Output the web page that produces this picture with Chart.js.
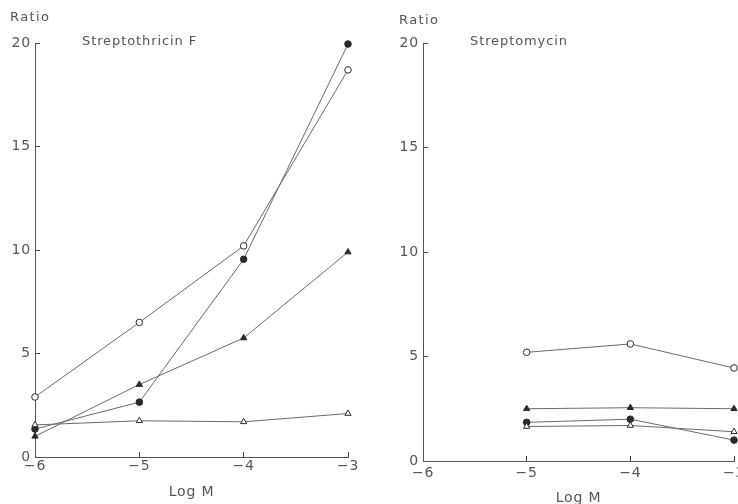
<!DOCTYPE html>
<html><head><meta charset="utf-8">
<script src="https://cdn.jsdelivr.net/npm/chart.js@4/dist/chart.umd.min.js"></script>
<style>
html,body{margin:0;padding:0;background:#fff;overflow:hidden;width:738px;height:504px;position:relative}
canvas{position:absolute;top:0}
</style></head>
<body>
<canvas id="c1" width="400" height="504" style="left:0"></canvas>
<canvas id="c2" width="400" height="504" style="left:369px"></canvas>
<script>
// Data
const logMLeft = [-6, -5, -4, -3];
const logMRight = [-5, -4, -3];
const yTickStep = 5;
const yMax = 20;
const xMin = -6, xMax = -3;

// Streptothricin F panel
const sfOpenCircle     = [2.9, 6.5, 10.2, 18.7];
const sfFilledCircle   = [1.35, 2.65, 9.55, 19.95];
const sfFilledTriangle = [1.0, 3.5, 5.75, 9.9];
const sfOpenTriangle   = [1.55, 1.75, 1.7, 2.1];

// Streptomycin panel
const smOpenCircle     = [5.2, 5.6, 4.45];
const smFilledTriangle = [2.5, 2.55, 2.5];
const smFilledCircle   = [1.85, 2.0, 1.0];
const smOpenTriangle   = [1.65, 1.7, 1.4];

const INK = '#555';
const LINE = '#6a6a6a';
const MARK = '#2a2a2a';
const FONT = "'DejaVu Sans', sans-serif";
const TICK_IN = -5;

function pts(xs, ys){ return xs.map((x,i)=>({x:x, y:ys[i]})); }

function ds(xs, ys, style, filled){
  return {
    data: pts(xs, ys),
    showLine: true,
    clip: false,
    borderColor: LINE,
    borderWidth: 1,
    pointStyle: style,
    pointRadius: style === 'triangle' ? 3.6 : 3.3,
    pointBorderColor: MARK,
    pointBorderWidth: 1,
    pointBackgroundColor: filled ? MARK : '#fff',
    pointHoverRadius: 3.3
  };
}

const fmtMinus = v => (v < 0 ? '\u2212' : '') + Math.abs(v);

const panelPlugin = {
  id: 'panelText',
  beforeDraw(chart){ chart.ctx.letterSpacing = '0.8px'; },
  afterDraw(chart, args, opts){
    const ctx = chart.ctx, ca = chart.chartArea;
    ctx.save();
    ctx.fillStyle = INK;
    ctx.font = "13px " + FONT;
    ctx.textBaseline = 'middle';
    ctx.textAlign = 'left';
    ctx.letterSpacing = '1.4px';
    ctx.fillText('Ratio', ca.left + opts.ratioDx, ca.top + opts.ratioDy);
    ctx.letterSpacing = '0.9px';
    ctx.fillText(opts.title, ca.left + opts.titleDx, ca.top + opts.titleDy);
    ctx.restore();
  }
};

function makeChart(id, datasets, cfg){
  const gridOpts = { display: true, drawOnChartArea: false, drawTicks: true, tickLength: TICK_IN, color: '#444', tickColor: '#444', tickWidth: 1 };
  return new Chart(document.getElementById(id), {
    type: 'scatter',
    data: { datasets: datasets },
    plugins: [panelPlugin],
    options: {
      responsive: false,
      animation: false,
      devicePixelRatio: 1,
      events: [],
      layout: { autoPadding: false, padding: { left: 0, top: 43, right: cfg.padRight, bottom: 0 } },
      plugins: {
        legend: { display: false },
        tooltip: { enabled: false },
        panelText: cfg.text
      },
      scales: {
        x: {
          type: 'linear', min: xMin, max: xMax,
          grid: gridOpts,
          border: { display: true, color: INK, width: 1 },
          ticks: { stepSize: 1, color: INK, font: { family: FONT, size: 14 }, padding: cfg.xPad - TICK_IN, callback: fmtMinus, maxRotation: 0 },
          title: { display: true, text: 'Log M', color: INK, font: { family: FONT, size: 14 }, padding: { top: 0, bottom: cfg.titlePad } },
          afterFit: s => { s.height = cfg.xHeight; }
        },
        y: {
          type: 'linear', min: 0, max: yMax,
          grid: gridOpts,
          border: { display: true, color: INK, width: 1 },
          ticks: { stepSize: yTickStep, color: INK, font: { family: FONT, size: 14 }, padding: 4 - TICK_IN },
          afterFit: s => { s.width = cfg.yWidth; }
        }
      }
    }
  });
}

makeChart('c1', [
  ds(logMLeft, sfOpenTriangle, 'triangle', false),
  ds(logMLeft, sfFilledTriangle, 'triangle', true),
  ds(logMLeft, sfFilledCircle, 'circle', true),
  ds(logMLeft, sfOpenCircle, 'circle', false)
], { padRight: 52, yWidth: 35, xHeight: 47, xPad: 1, titlePad: 3,
     text: { title: 'Streptothricin F', ratioDx: -25, ratioDy: -25, titleDx: 47, titleDy: -1 } });

makeChart('c2', [
  ds(logMRight, smOpenTriangle, 'triangle', false),
  ds(logMRight, smFilledCircle, 'circle', true),
  ds(logMRight, smFilledTriangle, 'triangle', true),
  ds(logMRight, smOpenCircle, 'circle', false)
], { padRight: 35, yWidth: 54, xHeight: 43, xPad: 4, titlePad: -3,
     text: { title: 'Streptomycin', ratioDx: -24, ratioDy: -22, titleDx: 47, titleDy: -1 } });
</script>
</body></html>
